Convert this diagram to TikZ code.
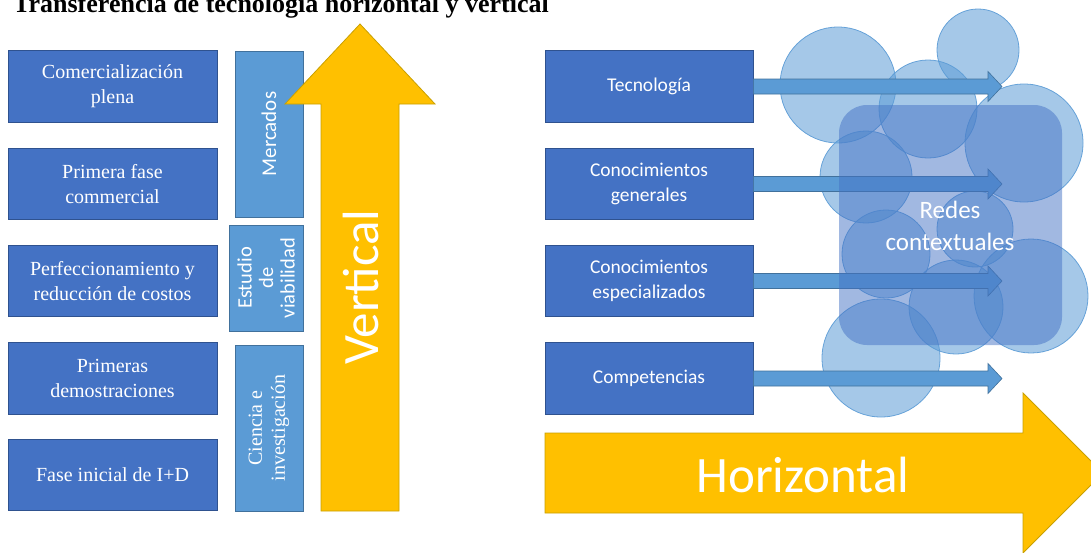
\documentclass[tikz,border=0pt]{standalone}
\usepackage{fontspec}
\setmainfont{Liberation Serif}
\newfontfamily\carlito{Carlito}
\usetikzlibrary{calc}
\definecolor{dblue}{HTML}{4472C4}
\definecolor{dbord}{HTML}{2F528F}
\definecolor{lblue}{HTML}{5B9BD5}
\definecolor{lbord}{HTML}{41719C}
\definecolor{gold}{HTML}{FFC000}
\definecolor{gbord}{HTML}{C9A000}
\tikzset{
  sbox/.style={draw=dbord, fill=dblue, line width=0.8pt, text=white, inner sep=0pt,
    minimum width=209pt, minimum height=71.5pt, align=center,
    font=\fontsize{20}{25}\selectfont},
  rbox/.style={sbox, minimum width=208pt, font=\carlito\fontsize{19.5}{25}\selectfont},
  lbox/.style={draw=lbord, fill=lblue, line width=0.8pt, text=white, inner sep=0pt,
    align=center, rotate=90, minimum height=68pt},
  goldarrow/.style={fill=gold, draw=gbord, line width=0.8pt},
  bubble/.style={fill=lblue, fill opacity=0.55, draw=lblue, draw opacity=0.9, line width=0.8pt},
  tarrow/.style={fill=lblue, draw=lbord, line width=0.6pt},
  bigtext/.style={text=white, inner sep=0pt, font=\carlito\fontsize{51}{60}\selectfont}
}
\begin{document}
\begin{tikzpicture}[x=1pt, y=-1pt]
\useasboundingbox (0,0) rectangle (1091,552);
% title
\node[anchor=base west, inner sep=0pt, font=\bfseries\fontsize{26}{30}\selectfont] (title) at (13,12)
  {Transferencia de tecnología horizontal y vertical};
% left boxes
\node[sbox] (l1) at (112.5,86.5) {Comercialización\\plena};
\node[sbox] (l2) at (112.5,184) {Primera fase\\commercial};
\node[sbox] (l3) at (112.5,281) {Perfeccionamiento y\\reducción de costos};
\node[sbox] (l4) at (112.5,378.5) {Primeras\\demostraciones};
\node[sbox] (l5) at (112.5,475) {Fase inicial de I+D};
% light boxes
\node[lbox, minimum width=166pt, font=\carlito\fontsize{21}{22}\selectfont] (m1) at (269,134) {Mercados};
\node[lbox, minimum width=106pt, minimum height=74pt, font=\carlito\fontsize{20.5}{21.5}\selectfont] (m2) at (266,278) {Estudio\\de\\viabilidad};
\node[lbox, minimum width=166pt, font=\fontsize{20}{23}\selectfont] (m3) at (269,428) {Ciencia e\\investigación};
% vertical arrow
\draw[goldarrow] (321,511) -- (321,104) -- (285,104) -- (360,24) -- (435,104) -- (399,104) -- (399,511) -- cycle;
\node[bigtext, anchor=base, rotate=90] (vt) at (378,287) {Vertical};
% right boxes
\node[rbox] (t1) at (649,86.5) {Tecnología};
\node[rbox] (t2) at (649,184) {Conocimientos\\generales};
\node[rbox] (t3) at (649,281) {Conocimientos\\especializados};
\node[rbox] (t4) at (649,378.5) {Competencias};
% bubbles
\path[bubble] (838,85) circle (58);
\path[bubble] (978,50) circle (41);
\path[bubble] (928,109) circle (49);
\path[bubble] (1024,143) circle (59);
\path[bubble] (866,177) circle (46);
\path[bubble] (975,229) circle (38);
\path[bubble] (886,254) circle (44);
\path[bubble] (956,307) circle (47);
\path[bubble] (1031,296) circle (57);
\path[bubble] (881,358) circle (59);
% thin arrows
\coordinate (e1) at (1002,86.5);
\coordinate (e2) at (1002,184);
\coordinate (e3) at (1002,281);
\coordinate (e4) at (1002,378.5);
\foreach \i in {1,...,4}{
  \draw[tarrow] ($(t\i.east)+(0,-7.5)$) -- ($(e\i)+(-14,-7.5)$) -- ($(e\i)+(-14,-15)$) -- (e\i)
    -- ($(e\i)+(-14,15)$) -- ($(e\i)+(-14,7.5)$) -- ($(t\i.east)+(0,7.5)$) -- cycle;
}
% context rectangle
\fill[dblue, fill opacity=0.5, rounded corners=28pt] (839,105) rectangle (1062,345);
\node[text=white, align=center, inner sep=0pt, font=\carlito\fontsize{25}{32}\selectfont] (redes) at (950,226) {Redes\\contextuales};
% horizontal arrow
\draw[goldarrow] (545,433) -- (1023,433) -- (1023,393) -- (1103,473) -- (1023,553) -- (1023,513) -- (545,513) -- cycle;
\node[bigtext, anchor=base] (hz) at (803,492) {Horizontal};
\end{tikzpicture}
\end{document}
